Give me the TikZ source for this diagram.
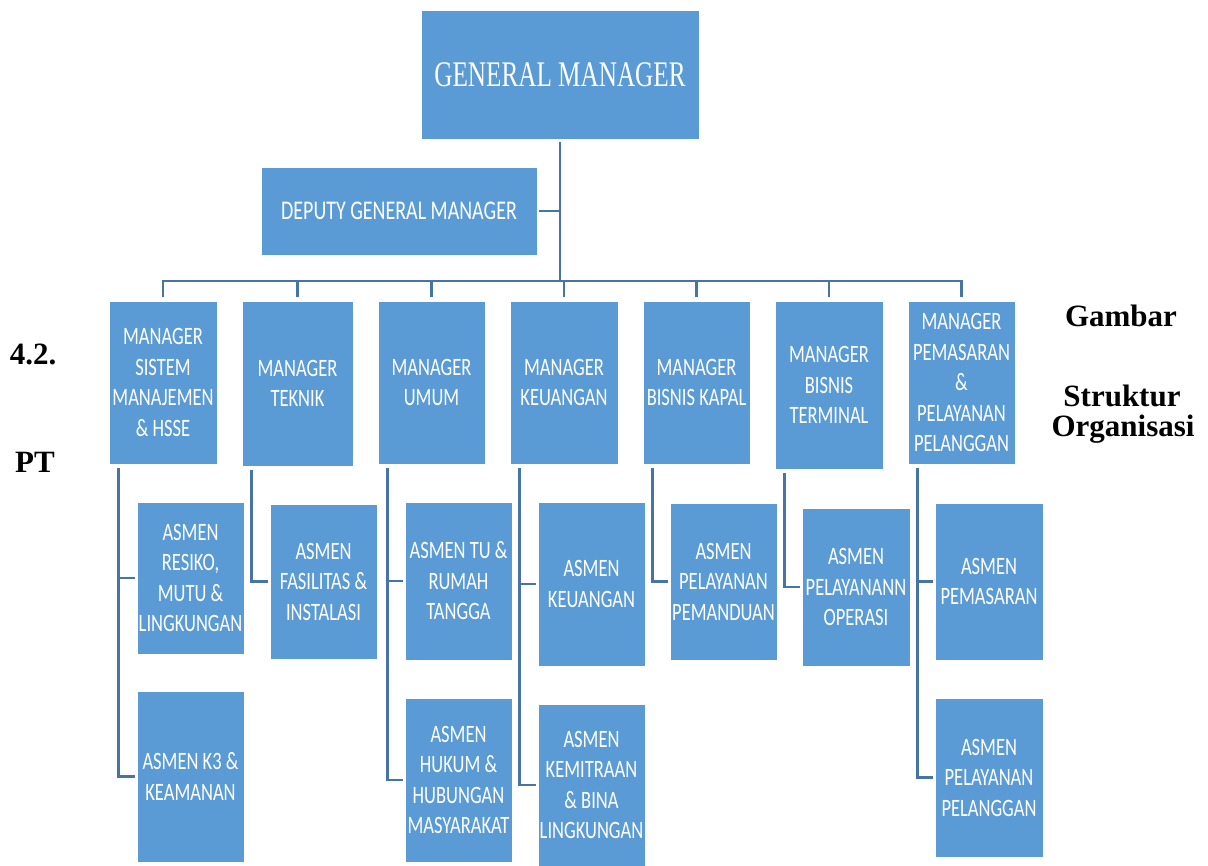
\documentclass[tikz,border=0pt]{standalone}
\usepackage{fontspec}
\setmainfont{Carlito}[FakeStretch=0.74]
\newfontfamily\gmfont{Liberation Serif}[FakeStretch=0.7]
\newfontfamily\capfont{Liberation Serif}
\definecolor{boxblue}{HTML}{5B9BD5}
\definecolor{linkblue}{RGB}{70,117,165}
\tikzset{
  unit/.style={fill=boxblue, draw=white, line width=0.8pt, text=white, inner sep=0pt,
    align=center, font=\fontsize{25}{30.5}\selectfont},
  link/.style={draw=linkblue, line width=2.5pt},
  caption/.style={font=\capfont\bfseries\fontsize{31}{31}\selectfont, anchor=base, inner sep=0pt}
}
\begin{document}
\begin{tikzpicture}[x=1pt,y=-1pt]
\useasboundingbox (0,0) rectangle (1208,866);
\node[unit, minimum width=278pt, minimum height=129pt, font=\gmfont\fontsize{36}{40}\selectfont] (gm) at (560,74.5) {GENERAL MANAGER};
\node[unit, minimum width=276pt, minimum height=88pt, font=\fontsize{27}{32}\selectfont] (dgm) at (399,211) {DEPUTY GENERAL MANAGER};
\node[unit, minimum width=108pt, minimum height=163pt] (m1) at (163,382.5) {MANAGER\\SISTEM\\MANAJEMEN\\\& HSSE};
\node[unit, minimum width=111pt, minimum height=165pt] (m2) at (297.5,383.5) {MANAGER\\TEKNIK};
\node[unit, minimum width=107pt, minimum height=163pt] (m3) at (431.5,382.5) {MANAGER\\UMUM};
\node[unit, minimum width=108pt, minimum height=163pt] (m4) at (564,382.5) {MANAGER\\KEUANGAN};
\node[unit, minimum width=107pt, minimum height=163pt] (m5) at (696.5,382.5) {MANAGER\\BISNIS KAPAL};
\node[unit, minimum width=108pt, minimum height=168pt] (m6) at (829,385) {MANAGER\\BISNIS\\TERMINAL};
\node[unit, minimum width=107pt, minimum height=163pt] (m7) at (961.5,382.5) {MANAGER\\PEMASARAN\\\&\\PELAYANAN\\PELANGGAN};
\node[unit, minimum width=107pt, minimum height=152pt] (a1) at (190.5,578) {ASMEN\\RESIKO,\\MUTU \&\\LINGKUNGAN};
\node[unit, minimum width=107pt, minimum height=171pt] (a1b) at (190.5,776.5) {ASMEN K3 \&\\KEAMANAN};
\node[unit, minimum width=107pt, minimum height=155pt] (a2) at (323.5,581.5) {ASMEN\\FASILITAS \&\\INSTALASI};
\node[unit, minimum width=107pt, minimum height=158pt] (a3) at (458.5,581) {ASMEN TU \&\\RUMAH\\TANGGA};
\node[unit, minimum width=107pt, minimum height=164pt] (a3b) at (458.5,780) {ASMEN\\HUKUM \&\\HUBUNGAN\\MASYARAKAT};
\node[unit, minimum width=107pt, minimum height=164pt] (a4) at (591.5,584) {ASMEN\\KEUANGAN};
\node[unit, minimum width=107pt, minimum height=162pt] (a4b) at (591.5,785) {ASMEN\\KEMITRAAN\\\& BINA\\LINGKUNGAN};
\node[unit, minimum width=107pt, minimum height=157pt] (a5) at (723.5,581.5) {ASMEN\\PELAYANAN\\PEMANDUAN};
\node[unit, minimum width=108pt, minimum height=158pt] (a6) at (856,587) {ASMEN\\PELAYANANN\\OPERASI};
\node[unit, minimum width=108pt, minimum height=157pt] (a7) at (989,581.5) {ASMEN\\PEMASARAN};
\node[unit, minimum width=108pt, minimum height=159pt] (a7b) at (989,777.5) {ASMEN\\PELAYANAN\\PELANGGAN};
\coordinate (bus) at (560,281);
\draw[link, shorten <=3pt] (gm.south) -- (bus);
\draw[link, shorten <=2pt] (dgm.east) -- (dgm.east -| gm.south);
\draw[link] ([yshift=4pt]m1.north) |- (bus) -| ([yshift=4pt]m7.north);
\foreach \m in {m2,m3,m4,m5,m6}
  \draw[link, shorten >=4pt] (\m.north |- bus) -- (\m.north);
\foreach \m/\a in {m1/a1,m2/a2,m3/a3,m4/a4,m5/a5,m6/a6,m7/a7}{
  \coordinate (\m-s) at ([xshift=10pt]\m.south west);
  \draw[link, shorten <=4pt, shorten >=2pt] (\m-s) |- (\a.west);
}
\foreach \m/\a in {m1/a1b,m3/a3b,m4/a4b,m7/a7b}
  \draw[link, shorten <=4pt, shorten >=2pt] (\m-s) |- (\a.west);
\node[caption] (fig) at (1121,327) {Gambar};
\node[caption] (title1) at (1122,407) {Struktur};
\node[caption] (title2) at (1123,437) {Organisasi};
\node[caption] (num) at (33,365) {4.2.};
\node[caption] (pt) at (35,473) {PT};
\end{tikzpicture}
\end{document}
